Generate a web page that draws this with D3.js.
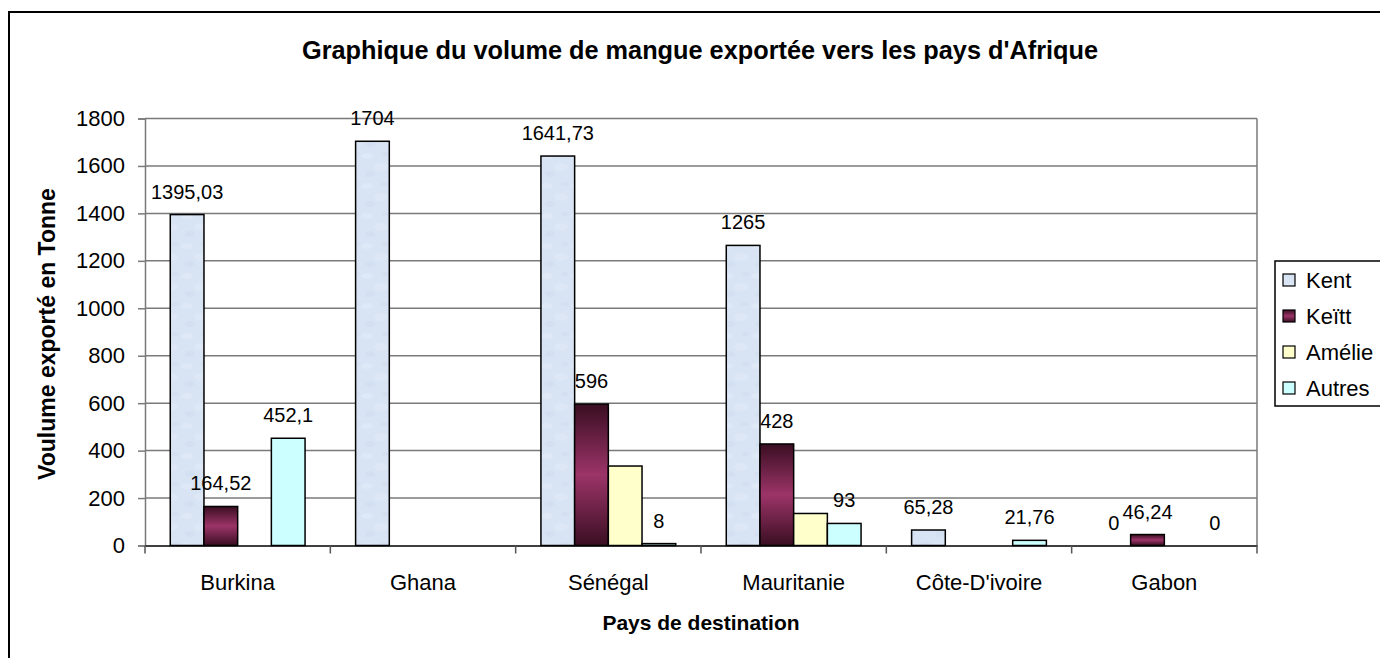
<!DOCTYPE html>
<html>
<head>
<meta charset="utf-8">
<script src="https://cdn.jsdelivr.net/npm/d3@7"></script>
<style>
  html, body { margin: 0; padding: 0; background: #fff; }
  svg text { font-family: Arial, "Liberation Sans", sans-serif; fill: #000; }
</style>
</head>
<body>
<div id="chart"></div>
<script>
// chart values
const categories = ['Burkina', 'Ghana', 'Sénégal', 'Mauritanie', "Côte-D'ivoire", 'Gabon'];
const seriesNames = ['Kent', 'Keïtt', 'Amélie', 'Autres'];
const kent = [1395.03, 1704, 1641.73, 1265, 65.28, 0];
const keitt = [164.52, null, 596, 428, null, 46.24];
const amelie = [null, null, 335, 135, null, null];
const autres = [452.1, null, 8, 93, 21.76, 0];
const showLabels = [true, true, false, true];
const yTicks = [0, 200, 400, 600, 800, 1000, 1200, 1400, 1600, 1800];

const seriesValues = [kent, keitt, amelie, autres];
const colors = ['url(#kentFill)', 'url(#keittGrad)', '#ffffcc', '#ccffff'];

const W = 1380, H = 658;
const plot = { left: 145, top: 118.5, right: 1257, bottom: 545.5 };

const svg = d3.select('#chart').append('svg')
    .attr('width', W)
    .attr('height', H);

const defs = svg.append('defs');
const grad = defs.append('linearGradient')
    .attr('id', 'keittGrad')
    .attr('x1', 0).attr('y1', 0).attr('x2', 0).attr('y2', 1);
grad.append('stop').attr('offset', '0%').attr('stop-color', '#3a0e22');
grad.append('stop').attr('offset', '50%').attr('stop-color', '#9c3468');
grad.append('stop').attr('offset', '100%').attr('stop-color', '#3a0e22');

// light blue mottled look for Kent
const pat = defs.append('pattern')
    .attr('id', 'kentFill')
    .attr('patternUnits', 'userSpaceOnUse')
    .attr('width', 30).attr('height', 30);
pat.append('rect').attr('width', 30).attr('height', 30).attr('fill', '#d8e4f3');
pat.append('ellipse').attr('cx', 7).attr('cy', 6).attr('rx', 6).attr('ry', 3).attr('fill', '#dee8f6');
pat.append('ellipse').attr('cx', 21).attr('cy', 17).attr('rx', 7).attr('ry', 4).attr('fill', '#dde7f5');
pat.append('ellipse').attr('cx', 10).attr('cy', 24).attr('rx', 5).attr('ry', 3).attr('fill', '#d3e0f1');
pat.append('ellipse').attr('cx', 25).attr('cy', 4).attr('rx', 4).attr('ry', 2).attr('fill', '#d4e0f1');

// outer frame
svg.append('rect')
    .attr('x', 9).attr('y', 12)
    .attr('width', W + 20).attr('height', H + 20)
    .attr('fill', 'none').attr('stroke', '#000').attr('stroke-width', 2);

// title
svg.append('text')
    .attr('x', 700).attr('y', 59)
    .attr('text-anchor', 'middle')
    .attr('font-size', '25.3px').attr('font-weight', 'bold')
    .text("Graphique du volume de mangue exportée vers les pays d'Afrique");

const x0 = d3.scaleBand()
    .domain(categories)
    .range([plot.left, plot.right])
    .padding(0);

const gap = x0.bandwidth() * 1.5 / 5.5;
const x1 = d3.scaleBand()
    .domain(seriesNames)
    .range([gap / 2, x0.bandwidth() - gap / 2])
    .padding(0);

const y = d3.scaleLinear()
    .domain([0, 1800])
    .range([plot.bottom, plot.top]);

// gridlines
svg.append('g')
    .selectAll('line')
    .data(yTicks.filter(d => d > 0))
    .enter()
    .append('line')
        .attr('x1', plot.left).attr('x2', plot.right)
        .attr('y1', d => y(d)).attr('y2', d => y(d))
        .attr('stroke', '#7a7a7a').attr('stroke-width', 1.5);

// plot right border
svg.append('line')
    .attr('x1', plot.right).attr('x2', plot.right)
    .attr('y1', plot.top).attr('y2', plot.bottom)
    .attr('stroke', '#7a7a7a').attr('stroke-width', 1.5);

// y axis
const yAxis = svg.append('g')
    .attr('transform', `translate(${plot.left}, 0)`)
    .call(d3.axisLeft(y).tickValues(yTicks).tickSize(7).tickPadding(13).tickFormat(d3.format('d')));
yAxis.select('.domain').attr('stroke', '#7a7a7a').attr('stroke-width', 1.5);
yAxis.selectAll('.tick line').attr('stroke', '#7a7a7a').attr('stroke-width', 1.5);
yAxis.selectAll('text')
    .attr('font-size', '22px')
    .attr('font-family', 'Arial, "Liberation Sans", sans-serif')
    .attr('fill', '#000');

// bars
const bars = [];
seriesValues.forEach((vals, si) => {
    vals.forEach((v, ci) => {
        if (v !== null) bars.push({ s: seriesNames[si], si: si, cat: categories[ci], v: v });
    });
});

svg.append('g')
    .selectAll('rect')
    .data(bars.filter(d => d.v > 0))
    .enter()
    .append('rect')
        .attr('x', d => x0(d.cat) + x1(d.s))
        .attr('y', d => y(d.v))
        .attr('width', x1.bandwidth())
        .attr('height', d => y(0) - y(d.v))
        .attr('fill', d => colors[d.si])
        .attr('stroke', '#000')
        .attr('stroke-width', 1.5);

// x axis
const xAxis = svg.append('g')
    .attr('transform', `translate(0, ${plot.bottom})`)
    .call(d3.axisBottom(x0).tickSize(0).tickPadding(29));
xAxis.select('.domain').attr('stroke', '#000').attr('stroke-width', 1.5);
xAxis.selectAll('text')
    .attr('font-size', '22px')
    .attr('font-family', 'Arial, "Liberation Sans", sans-serif')
    .attr('fill', '#000');

const bounds = categories.map(c => x0(c)).concat([plot.right]);
svg.append('g')
    .selectAll('line')
    .data(bounds)
    .enter()
    .append('line')
        .attr('x1', d => d).attr('x2', d => d)
        .attr('y1', plot.bottom).attr('y2', plot.bottom + 8)
        .attr('stroke', '#555').attr('stroke-width', 1.5);

// data labels
svg.append('g')
    .selectAll('text')
    .data(bars.filter(d => showLabels[d.si]))
    .enter()
    .append('text')
        .attr('x', d => x0(d.cat) + x1(d.s) + x1.bandwidth() / 2)
        .attr('y', d => y(d.v) - 16)
        .attr('text-anchor', 'middle')
        .attr('font-size', '20px')
        .text(d => String(d.v).replace('.', ','));

// axis titles
svg.append('text')
    .attr('transform', 'translate(55, 334) rotate(-90)')
    .attr('text-anchor', 'middle')
    .attr('font-size', '23px').attr('font-weight', 'bold')
    .text('Voulume exporté en Tonne');

svg.append('text')
    .attr('x', (plot.left + plot.right) / 2).attr('y', 630)
    .attr('text-anchor', 'middle')
    .attr('font-size', '21px').attr('font-weight', 'bold')
    .text('Pays de destination');

// legend
const legend = svg.append('g');
legend.append('rect')
    .attr('x', 1275).attr('y', 261)
    .attr('width', 130).attr('height', 145)
    .attr('fill', '#fff').attr('stroke', '#000').attr('stroke-width', 1.5);

const items = legend.selectAll('g.item')
    .data(seriesNames)
    .enter()
    .append('g')
        .attr('class', 'item')
        .attr('transform', (d, i) => `translate(1283, ${280 + i * 36})`);
items.append('rect')
    .attr('x', 0).attr('y', -6)
    .attr('width', 12).attr('height', 12)
    .attr('fill', (d, i) => colors[i])
    .attr('stroke', '#000').attr('stroke-width', 1.2);
items.append('text')
    .attr('x', 23).attr('y', 8)
    .attr('font-size', '22px')
    .text(d => d);
</script>
</body>
</html>
